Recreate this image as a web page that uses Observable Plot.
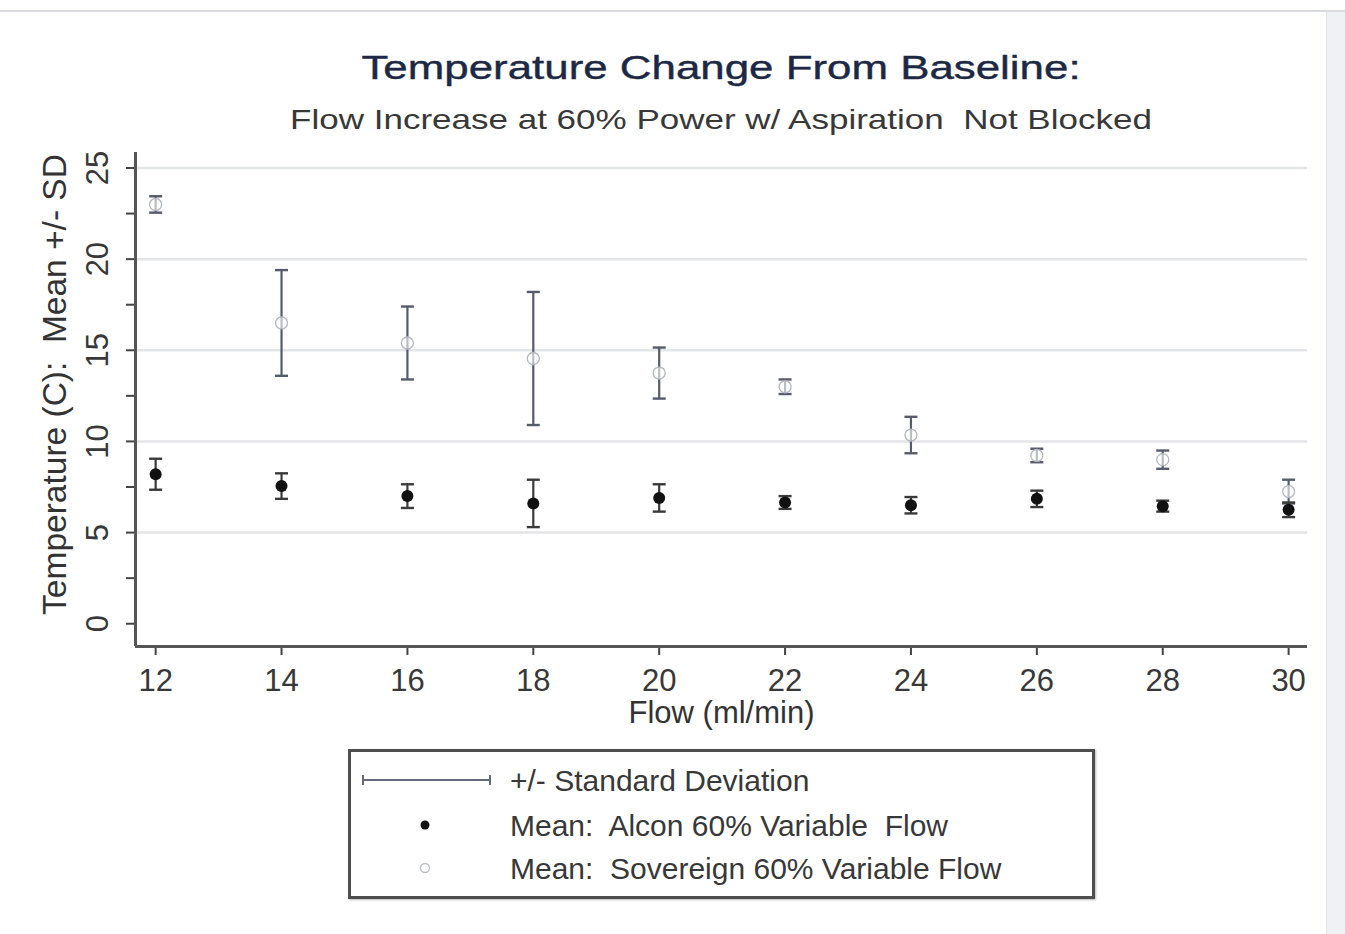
<!DOCTYPE html>
<html>
<head>
<meta charset="utf-8">
<script src="https://cdn.jsdelivr.net/npm/d3@7"></script>
<script src="https://cdn.jsdelivr.net/npm/@observablehq/plot@0.6"></script>
<style>
html,body{margin:0;padding:0;background:#fff;overflow:hidden}
#page{position:relative;width:1345px;height:934px;font-family:"Liberation Sans",Arial,sans-serif;}
.t{position:absolute;white-space:pre;line-height:1}
</style>
</head>
<body>
<div id="page">
  <div style="position:absolute;left:0;top:10px;width:1345px;height:2px;background:#d9dadd"></div>
  <div class="t" id="title" style="left:221px;width:1000px;top:50px;font-size:34px;color:#1c2844;text-align:center;transform:scaleX(1.29);-webkit-text-stroke:0.4px #1c2844"></div>
  <div class="t" id="subtitle" style="left:221px;width:1000px;top:106px;font-size:28px;color:#383838;text-align:center;transform:scaleX(1.25)"></div>
  <div id="chart" style="position:absolute;left:0;top:140px"></div>
  <div style="position:absolute;left:1326px;top:12px;width:19px;height:922px;background:#eff1f4;border-left:1px solid #e2e4e8"></div>
  <div id="legend" style="position:absolute;left:348px;top:749px;width:741px;height:144px;border:3px solid #4e4e4e;box-shadow:1px 1px 2px #bbb;background:#fff"></div>
</div>
<script>
// ---- data ----
const titleText = "Temperature Change From Baseline:";
const subtitleText = "Flow Increase at 60% Power w/ Aspiration  Not Blocked";
const xLabel = "Flow (ml/min)";
const yLabel = "Temperature (C):\u00a0 Mean +/- SD";

const flows = [12, 14, 16, 18, 20, 22, 24, 26, 28, 30];
const alconMean = [8.2, 7.55, 7.0, 6.6, 6.9, 6.65, 6.5, 6.85, 6.45, 6.25];
const alconSD   = [0.85, 0.7, 0.65, 1.3, 0.75, 0.35, 0.45, 0.45, 0.3, 0.4];
const sovMean   = [23.0, 16.5, 15.4, 14.55, 13.75, 13.0, 10.35, 9.23, 9.0, 7.25];
const sovSD     = [0.45, 2.9, 2.0, 3.65, 1.4, 0.4, 1.0, 0.37, 0.5, 0.65];

const xTicks = [12, 14, 16, 18, 20, 22, 24, 26, 28, 30];
const yMajorTicks = [0, 5, 10, 15, 20, 25];
const yMinorTicks = [2.5, 7.5, 12.5, 17.5, 22.5];
const gridValues = [5, 10, 15, 20, 25];

const legendItems = ["+/- Standard Deviation", "Mean:  Alcon 60% Variable  Flow", "Mean:  Sovereign 60% Variable Flow"];

// ---- build ----
document.getElementById("title").textContent = titleText;
document.getElementById("subtitle").textContent = subtitleText;

const alcon = flows.map((f, i) => ({flow: f, mean: alconMean[i], lo: alconMean[i] - alconSD[i], hi: alconMean[i] + alconSD[i]}));
const sov = flows.map((f, i) => ({flow: f, mean: sovMean[i], lo: sovMean[i] - sovSD[i], hi: sovMean[i] + sovSD[i]}));
const caps = (arr) => arr.flatMap(d => [{flow: d.flow, v: d.lo}, {flow: d.flow, v: d.hi}]);

const capSymbol = {draw(ctx) { ctx.moveTo(-6.5, 0); ctx.lineTo(6.5, 0); }};

const xDomain = [11.68, 30.30];
const yDomain = [-1.25, 25.85];
const barColor = "#555b69";
const alconBar = "#3a3a3a";

const chart = Plot.plot({
  width: 1345,
  height: 600,
  marginLeft: 135,
  marginRight: 38,
  marginTop: 12,
  marginBottom: 94,
  x: {domain: xDomain},
  y: {domain: yDomain},
  style: {fontFamily: "Liberation Sans, Arial, sans-serif", fontSize: "31px", color: "#333", background: "transparent", overflow: "visible"},
  marks: [
    Plot.ruleY(gridValues, {stroke: "#e4e5e7", strokeWidth: 2.5}),
    Plot.axisX({ticks: xTicks, tickSize: 9, tickPadding: 13, tickFormat: d => String(d), label: null, stroke: "#444", strokeWidth: 2, fill: "#383838", fontSize: 31}),
    Plot.axisY({ticks: [...yMajorTicks, ...yMinorTicks], tickSize: 9, tickFormat: () => "", label: null, stroke: "#444", strokeWidth: 2}),
    Plot.text(yMajorTicks, {y: d => d, text: d => String(d), frameAnchor: "left", dx: -37, rotate: -90, textAnchor: "middle", lineAnchor: "middle", fill: "#383838", fontSize: 31}),
    Plot.text([yLabel], {frameAnchor: "left", dx: -80, dy: -15, rotate: -90, textAnchor: "middle", lineAnchor: "middle", fill: "#333", fontSize: 33.5}),
    Plot.text([xLabel], {frameAnchor: "bottom", dy: 67, textAnchor: "middle", lineAnchor: "middle", fill: "#333", fontSize: 31}),
    Plot.ruleX([xDomain[0]], {stroke: "#555", strokeWidth: 3}),
    Plot.ruleY([yDomain[0]], {stroke: "#555", strokeWidth: 3}),
    // error bars
    Plot.ruleX(sov, {x: "flow", y1: "lo", y2: "hi", stroke: barColor, strokeWidth: 2.2}),
    Plot.dot(caps(sov), {x: "flow", y: "v", symbol: capSymbol, fill: "none", stroke: barColor, strokeWidth: 2.4}),
    Plot.ruleX(alcon, {x: "flow", y1: "lo", y2: "hi", stroke: alconBar, strokeWidth: 2.2}),
    Plot.dot(caps(alcon), {x: "flow", y: "v", symbol: capSymbol, fill: "none", stroke: alconBar, strokeWidth: 2.4}),
    // means
    Plot.dot(sov, {x: "flow", y: "mean", r: 6, fill: "white", fillOpacity: 0.6, stroke: "#b3b7c0", strokeWidth: 1.3}),
    Plot.dot(alcon, {x: "flow", y: "mean", r: 6, fill: "#111"})
  ]
});
document.getElementById("chart").appendChild(chart);

// ---- legend ----
const legend = d3.select("#legend");
const lsvg = legend.append("svg").attr("width", 741).attr("height", 144)
  .style("position", "absolute").style("left", "0").style("top", "0");
lsvg.append("line").attr("x1", 12).attr("x2", 139).attr("y1", 28).attr("y2", 28).attr("stroke", "#646a78").attr("stroke-width", 2);
lsvg.append("line").attr("x1", 12).attr("x2", 12).attr("y1", 23).attr("y2", 33).attr("stroke", "#646a78").attr("stroke-width", 2);
lsvg.append("line").attr("x1", 139).attr("x2", 139).attr("y1", 23).attr("y2", 33).attr("stroke", "#646a78").attr("stroke-width", 2);
lsvg.append("circle").attr("cx", 74).attr("cy", 73).attr("r", 4.5).attr("fill", "#111");
lsvg.append("circle").attr("cx", 74).attr("cy", 116).attr("r", 4.5).attr("fill", "white").attr("stroke", "#b8bcc4").attr("stroke-width", 1.3);
const tops = [14, 59, 102];
legendItems.forEach((s, i) => {
  legend.append("div").attr("class", "t").style("left", "159px").style("top", tops[i] + "px")
    .style("font-size", "30px").style("color", "#383838").text(s);
});
</script>
</body>
</html>
